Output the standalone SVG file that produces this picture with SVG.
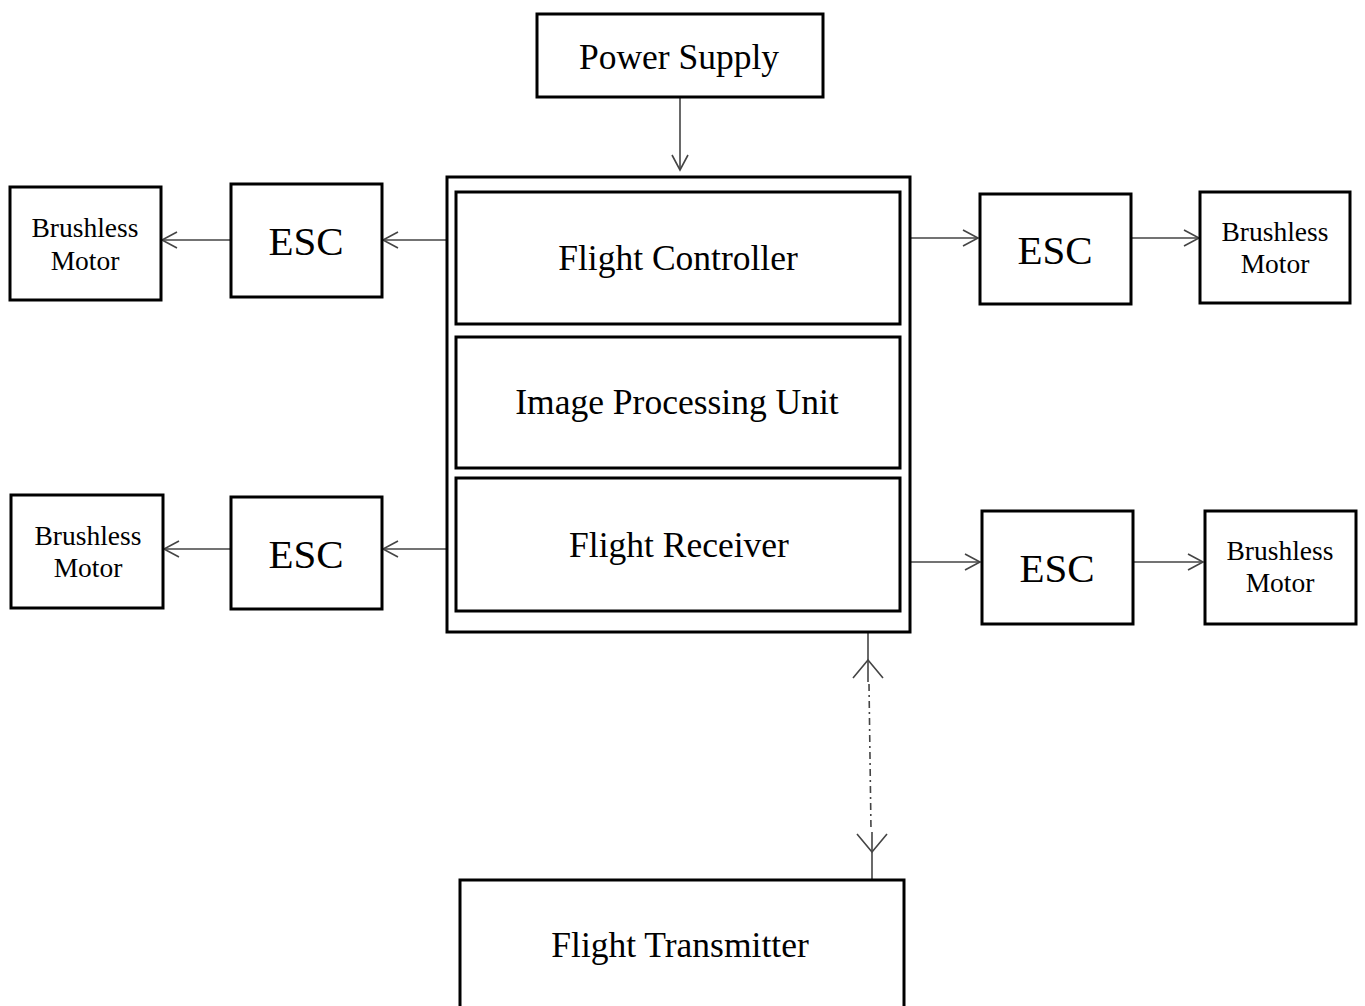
<svg xmlns="http://www.w3.org/2000/svg" width="1365" height="1006" viewBox="0 0 1365 1006">
<style>
.box{fill:#fff;stroke:#000;stroke-width:3}
.t{font-family:"Liberation Serif","Times New Roman",serif;fill:#000;text-anchor:middle}
.big{font-size:35.5px}
.esc{font-size:41px}
.bm{font-size:27.5px}
.c{fill:none;stroke:#444;stroke-width:1.6}
</style>
<defs>
<marker id="ah" markerUnits="userSpaceOnUse" markerWidth="20" markerHeight="20" refX="16" refY="10" orient="auto">
<path d="M1,2 L16,10 L1,18" fill="none" stroke="#444" stroke-width="1.6"/>
</marker>
</defs>
<rect width="1365" height="1006" fill="#fff"/>
<g id="connectors">
<line class="c" x1="680" y1="97" x2="680" y2="170" marker-end="url(#ah)"/>
<line class="c" x1="447" y1="240" x2="383" y2="240" marker-end="url(#ah)"/>
<line class="c" x1="231" y1="240" x2="162" y2="240" marker-end="url(#ah)"/>
<line class="c" x1="447" y1="549" x2="383" y2="549" marker-end="url(#ah)"/>
<line class="c" x1="231" y1="549" x2="164" y2="549" marker-end="url(#ah)"/>
<line class="c" x1="910" y1="238" x2="978" y2="238" marker-end="url(#ah)"/>
<line class="c" x1="1131" y1="238" x2="1199" y2="238" marker-end="url(#ah)"/>
<line class="c" x1="910" y1="562" x2="980" y2="562" marker-end="url(#ah)"/>
<line class="c" x1="1133" y1="562" x2="1203" y2="562" marker-end="url(#ah)"/>
<g id="wireless">
<line class="c" x1="868" y1="633" x2="868" y2="682" stroke="#000"/>
<path class="c" d="M853,678 L868,660 L883,678"/>
<line class="c" x1="869" y1="684" x2="871" y2="830" stroke="#222" stroke-width="2" stroke-dasharray="7,4,2,4"/>
<line class="c" x1="872" y1="832" x2="872" y2="880" stroke="#000"/>
<path class="c" d="M857,834 L872,852 L887,834"/>
</g>
</g>
<g id="power-supply"><rect class="box" x="537" y="14" width="286" height="83"/><text class="t big" x="679" y="69">Power Supply</text></g>
<g id="main-unit"><rect class="box" x="447" y="177" width="463" height="455"/></g>
<g id="flight-controller"><rect class="box" x="456" y="192" width="444" height="132"/><text class="t big" x="678" y="270">Flight Controller</text></g>
<g id="image-processing"><rect class="box" x="456" y="337" width="444" height="131"/><text class="t big" x="677" y="414">Image Processing Unit</text></g>
<g id="flight-receiver"><rect class="box" x="456" y="478" width="444" height="133"/><text class="t big" x="679" y="557">Flight Receiver</text></g>
<g id="esc-tl"><rect class="box" x="231" y="184" width="151" height="113"/><text class="t esc" x="306" y="255">ESC</text></g>
<g id="motor-tl"><rect class="box" x="10" y="187" width="151" height="113"/><text class="t bm" x="85" y="237">Brushless</text><text class="t bm" x="85" y="270">Motor</text></g>
<g id="esc-bl"><rect class="box" x="231" y="497" width="151" height="112"/><text class="t esc" x="306" y="568">ESC</text></g>
<g id="motor-bl"><rect class="box" x="11" y="495" width="152" height="113"/><text class="t bm" x="88" y="545">Brushless</text><text class="t bm" x="88" y="577">Motor</text></g>
<g id="esc-tr"><rect class="box" x="980" y="194" width="151" height="110"/><text class="t esc" x="1055" y="264">ESC</text></g>
<g id="motor-tr"><rect class="box" x="1200" y="192" width="150" height="111"/><text class="t bm" x="1275" y="241">Brushless</text><text class="t bm" x="1275" y="273">Motor</text></g>
<g id="esc-br"><rect class="box" x="982" y="511" width="151" height="113"/><text class="t esc" x="1057" y="582">ESC</text></g>
<g id="motor-br"><rect class="box" x="1205" y="511" width="151" height="113"/><text class="t bm" x="1280" y="560">Brushless</text><text class="t bm" x="1280" y="592">Motor</text></g>
<g id="flight-transmitter"><rect class="box" x="460" y="880" width="444" height="140"/><text class="t big" x="680" y="957">Flight Transmitter</text></g>
</svg>
